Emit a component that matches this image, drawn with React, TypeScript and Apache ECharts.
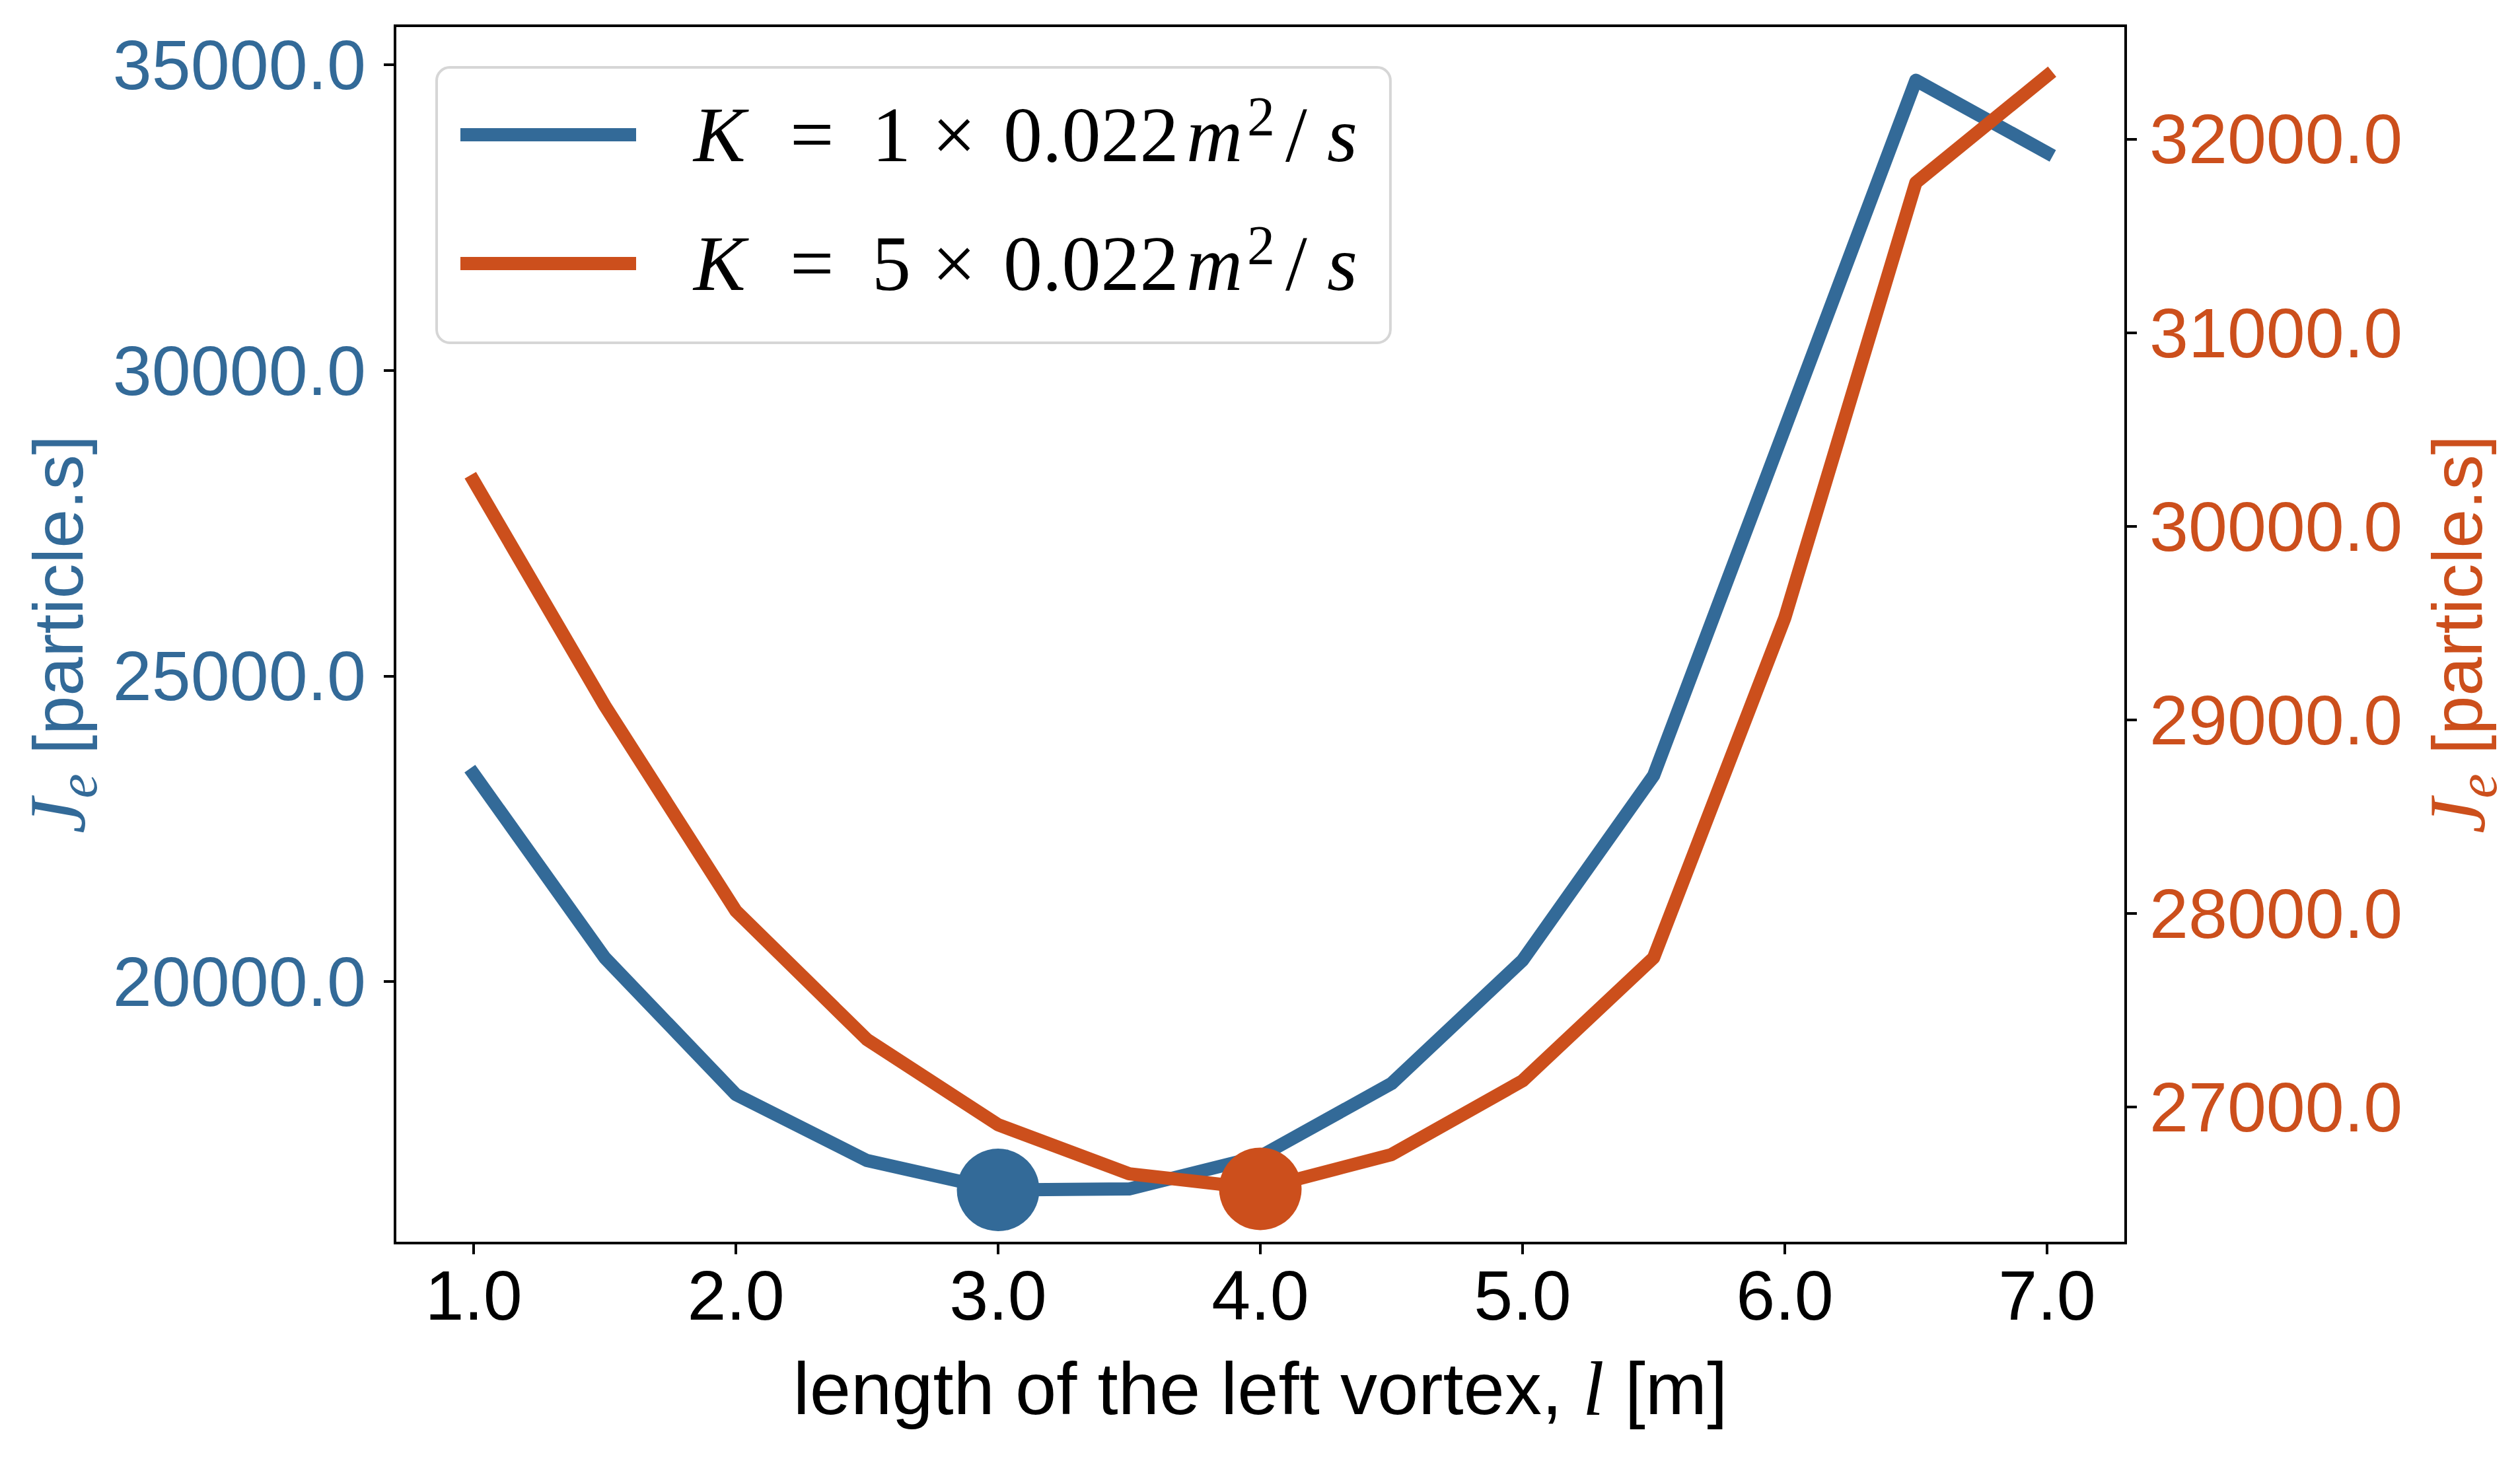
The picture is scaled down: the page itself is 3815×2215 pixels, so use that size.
import React, { useEffect, useRef } from "react";
import * as echarts from "echarts";

// ---------- data ----------
const lengths = [1.0, 1.5, 2.0, 2.5, 3.0, 3.5, 4.0, 4.5, 5.0, 5.5, 6.0, 6.5, 7.0];
const jeK1 = [23395, 20389, 18151, 17070, 16590, 16605, 17140, 18329, 20346, 23373, 29050, 34747, 33564];
const jeK5 = [30234, 29073, 28013, 27348, 26908, 26655, 26577, 26754, 27135, 27771, 29526, 31775, 32326];
const xTicks = [1, 2, 3, 4, 5, 6, 7];
const leftTicks = [20000, 25000, 30000, 35000];
const rightTicks = [27000, 28000, 29000, 30000, 31000, 32000];
const seriesNames = ["K = 1 × 0.022 m²/s", "K = 5 × 0.022 m²/s"];
const kFactors = ["1", "5"];

const BLUE = "#336a98";
const ORANGE = "#cc4f1c";
const SANS = "'Liberation Sans', Arial, sans-serif";
const SERIF = "'Liberation Serif', 'Times New Roman', serif";

function argMin(a: number[]) {
  let k = 0;
  for (let i = 1; i < a.length; i++) if (a[i] < a[k]) k = i;
  return k;
}

function axisNameRich(color: string) {
  return {
    j: { fontFamily: SERIF, fontStyle: "italic", fontSize: 120, color, lineHeight: 120 },
    sub: { fontFamily: SERIF, fontStyle: "italic", fontSize: 84, color, lineHeight: 120, padding: [60, 0, 0, 0] },
    t: { fontFamily: SANS, fontSize: 106, color, lineHeight: 120 },
  };
}

const LF = 118;
const LH = 118;
const legendRich: any = {
  gap: { width: 82, fontFamily: SERIF, fontSize: LF, lineHeight: LH, color: "#000" },
  k: { width: 146, fontFamily: SERIF, fontStyle: "italic", fontSize: LF, lineHeight: LH, color: "#000" },
  eq: { width: 124, fontFamily: SERIF, fontSize: LF, lineHeight: LH, color: "#000" },
  n: { width: 91, fontFamily: SERIF, fontSize: LF, lineHeight: LH, color: "#000" },
  x: { width: 108, fontFamily: SERIF, fontSize: LF, lineHeight: LH, color: "#000" },
  num: { width: 277, fontFamily: SERIF, fontSize: LF, lineHeight: LH, color: "#000" },
  m: { width: 92, fontFamily: SERIF, fontStyle: "italic", fontSize: LF, lineHeight: LH, color: "#000" },
  sup: { width: 58, fontFamily: SERIF, fontSize: 84, lineHeight: LH, color: "#000", padding: [0, 0, 56, 0] },
  sl: { width: 63, fontFamily: SERIF, fontSize: LF, lineHeight: LH, color: "#000" },
  s: { width: 44, fontFamily: SERIF, fontStyle: "italic", fontSize: LF, lineHeight: LH, color: "#000" },
};

export default function App() {
  const ref = useRef<HTMLDivElement>(null);

  useEffect(() => {
    document.body.style.margin = "0";
    document.body.style.overflow = "hidden";
    if (!ref.current) return;
    const chart = echarts.init(ref.current, undefined, { renderer: "svg" });
    const i1 = argMin(jeK1);
    const i5 = argMin(jeK5);
    const fmt = (v: number) => v.toFixed(1);

    const option: any = {
      animation: false,
      backgroundColor: "#ffffff",
      grid: {
        left: 598,
        top: 39,
        right: 597,
        bottom: 333,
        show: true,
        borderColor: "#000",
        borderWidth: 4,
        backgroundColor: "transparent",
        containLabel: false,
        outerBoundsMode: "none",
      },
      legend: {
        data: seriesNames,
        orient: "vertical",
        left: 661,
        top: 102,
        padding: [32, 50, 50, 36],
        itemWidth: 266,
        itemHeight: 20,
        itemGap: 55,
        icon: "rect",
        selectedMode: false,
        backgroundColor: "#ffffff",
        borderColor: "#d6d6d6",
        borderWidth: 4,
        borderRadius: 20,
        formatter: (name: string) => {
          const i = seriesNames.indexOf(name);
          return `{gap| }{k|K}{eq|=}{n|${kFactors[i]}}{x|×}{num|0.022}{m|m}{sup|2}{sl|/}{s|s}`;
        },
        textStyle: { rich: legendRich },
      },
      xAxis: {
        type: "value",
        min: 0.7,
        max: 7.3,
        axisLine: { show: true, onZero: false, lineStyle: { color: "#000", width: 4 } },
        axisTick: { show: true, customValues: xTicks, length: 17, lineStyle: { color: "#000", width: 4 } },
        axisLabel: {
          customValues: xTicks,
          formatter: fmt,
          fontFamily: SANS,
          fontSize: 106,
          color: "#000",
          margin: 26,
        },
        splitLine: { show: false },
        name: "{t|length of the left vortex, }{i|l}{t| [m]}",
        nameLocation: "middle",
        nameGap: 160,
        nameTextStyle: {
          rich: {
            t: { fontFamily: SANS, fontSize: 112, color: "#000", lineHeight: 120 },
            i: { fontFamily: SERIF, fontStyle: "italic", fontSize: 117, color: "#000", lineHeight: 120 },
          },
        },
      },
      yAxis: [
        {
          type: "value",
          position: "left",
          min: 15720,
          max: 35640,
          axisLine: { show: true, onZero: false, lineStyle: { color: "#000", width: 4 } },
          axisTick: { show: true, customValues: leftTicks, length: 17, lineStyle: { color: "#000", width: 4 } },
          axisLabel: {
            customValues: leftTicks,
            formatter: fmt,
            fontFamily: SANS,
            fontSize: 106,
            color: BLUE,
            margin: 44,
          },
          splitLine: { show: false },
          name: "{j|J}{sub|e}{t| [particle.s]}",
          nameLocation: "middle",
          nameRotate: 90,
          nameGap: 433,
          nameTextStyle: { rich: axisNameRich(BLUE) },
        },
        {
          type: "value",
          position: "right",
          min: 26297,
          max: 32585,
          axisLine: { show: true, onZero: false, lineStyle: { color: "#000", width: 4 } },
          axisTick: { show: true, customValues: rightTicks, length: 17, lineStyle: { color: "#000", width: 4 } },
          axisLabel: {
            customValues: rightTicks,
            formatter: fmt,
            fontFamily: SANS,
            fontSize: 106,
            color: ORANGE,
            margin: 36,
          },
          splitLine: { show: false },
          name: "{j|J}{sub|e}{t| [particle.s]}",
          nameLocation: "middle",
          nameRotate: 90,
          nameGap: 437,
          nameTextStyle: { rich: axisNameRich(ORANGE) },
        },
      ],
      series: [
        {
          type: "line",
          name: seriesNames[0],
          yAxisIndex: 0,
          data: lengths.map((x, i) => [x, jeK1[i]]),
          showSymbol: false,
          symbol: "none",
          lineStyle: { color: BLUE, width: 20, cap: "square", join: "round" },
          itemStyle: { color: BLUE },
          z: 2,
        },
        {
          type: "line",
          name: seriesNames[1],
          yAxisIndex: 1,
          data: lengths.map((x, i) => [x, jeK5[i]]),
          showSymbol: false,
          symbol: "none",
          lineStyle: { color: ORANGE, width: 20, cap: "square", join: "round" },
          itemStyle: { color: ORANGE },
          z: 3,
        },
        {
          type: "scatter",
          name: "min1",
          yAxisIndex: 0,
          data: [[lengths[i1], jeK1[i1]]],
          symbol: "circle",
          symbolSize: 125,
          itemStyle: { color: BLUE, opacity: 1 },
          z: 4,
        },
        {
          type: "scatter",
          name: "min5",
          yAxisIndex: 1,
          data: [[lengths[i5], jeK5[i5]]],
          symbol: "circle",
          symbolSize: 125,
          itemStyle: { color: ORANGE, opacity: 1 },
          z: 5,
        },
      ],
    };

    chart.setOption(option);
    return () => chart.dispose();
  }, []);

  return <div ref={ref} style={{ width: 3815, height: 2215 }} />;
}
